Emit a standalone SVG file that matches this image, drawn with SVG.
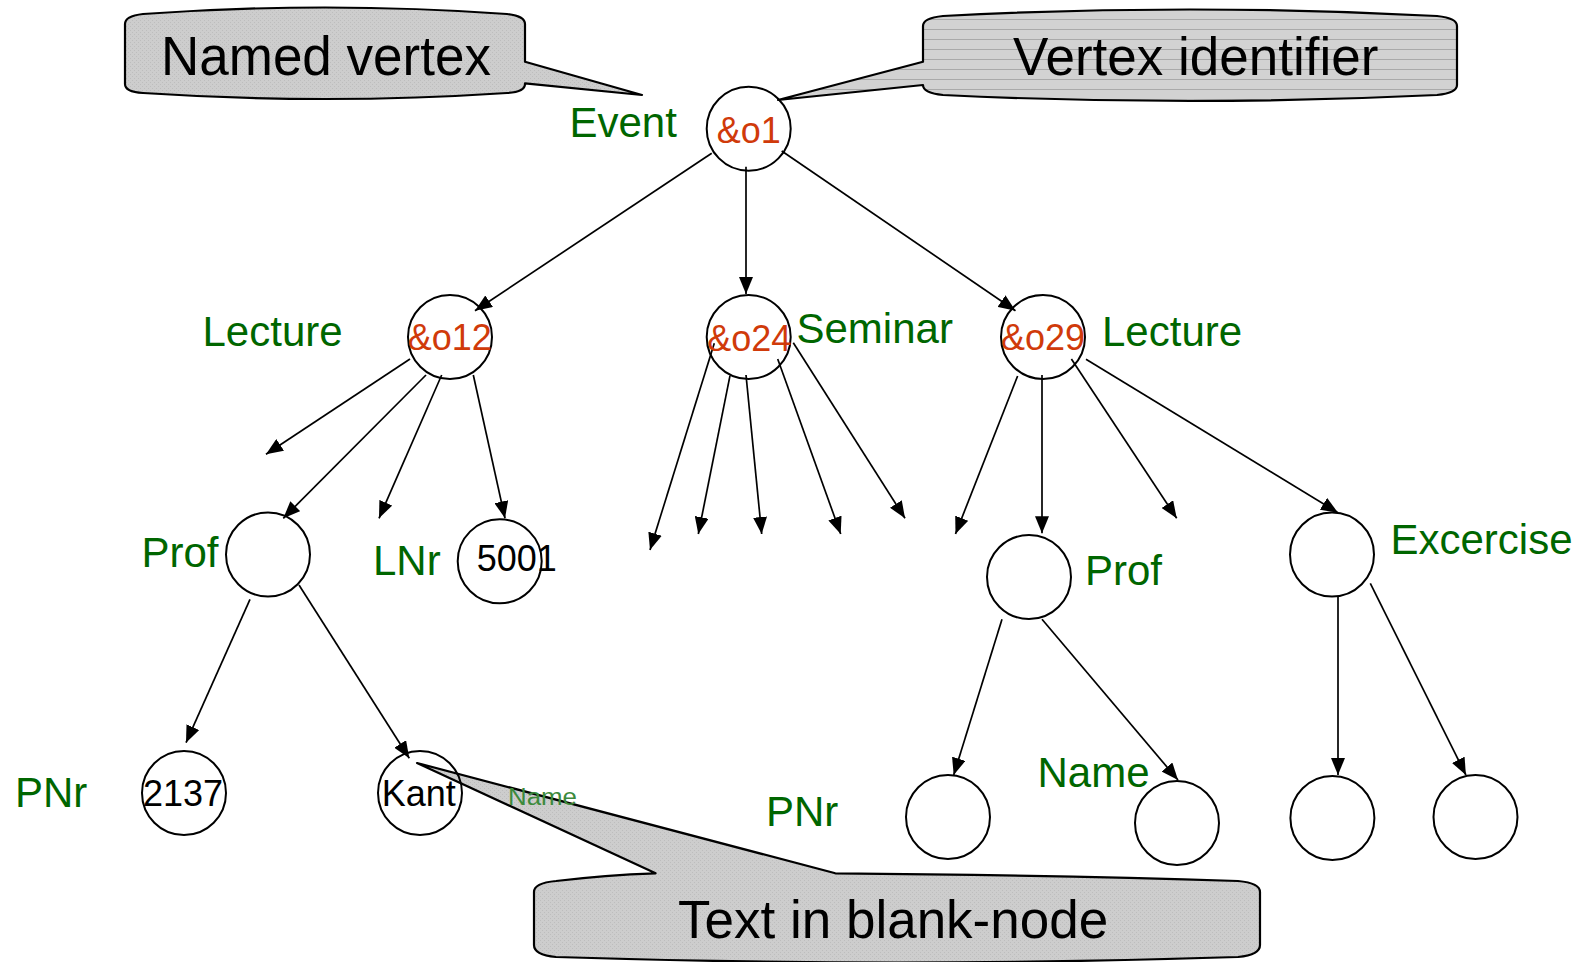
<svg xmlns="http://www.w3.org/2000/svg" width="1589" height="962" viewBox="0 0 1589 962">
<style>
.lbl{font-family:"Liberation Sans",Arial,sans-serif;font-size:42px;fill:#006600}
.id{font-family:"Liberation Sans",Arial,sans-serif;font-size:36px;fill:#d03a0a}
.val{font-family:"Liberation Sans",Arial,sans-serif;font-size:36px;fill:#000}
.call{font-family:"Liberation Sans",Arial,sans-serif;font-size:53px;fill:#000}
.node{fill:none;stroke:#000;stroke-width:2}
.edge{stroke:#000;stroke-width:1.7;fill:none;marker-end:url(#arr)}
.co{stroke:#000;stroke-width:2.2;stroke-linejoin:round}
</style>
<defs>
<marker id="arr" markerUnits="userSpaceOnUse" viewBox="0 0 17 14" refX="17" refY="7" markerWidth="17" markerHeight="14" orient="auto">
<path d="M0,0 L17,7 L0,14 Z" fill="#000"/>
</marker>
<pattern id="dots" patternUnits="userSpaceOnUse" width="4" height="4">
<rect width="4" height="4" fill="#cdcdcd"/>
<rect x="0" y="0" width="1" height="1" fill="#bdbdbd"/>
<rect x="2" y="2" width="1" height="1" fill="#bdbdbd"/>
</pattern>
<pattern id="hlines" patternUnits="userSpaceOnUse" width="8" height="10">
<rect width="8" height="10" fill="#d2d2d2"/>
<rect x="0" y="9" width="8" height="1" fill="#a9a9a9"/>
</pattern>
</defs>
<rect width="1589" height="962" fill="#fff"/>

<g id="callout-named-vertex">
<path class="co" fill="url(#dots)" d="M125,24 Q125,16 143,14 Q325,1 507,14 Q525,16 525,24 L525,61.7 L642,95 L525,83.3 L525,84 Q525,92 507,93 Q325,105 143,93 Q125,92 125,84 Z"/>
<text class="call" transform="translate(161,75) scale(1,1.06)" x="0" y="0">Named vertex</text>
</g>

<g id="callout-vertex-identifier">
<path class="co" fill="url(#hlines)" d="M923,26 Q923,18 943,16 Q1190,3 1437,16 Q1457,18 1457,26 L1457,85 Q1457,93 1437,95 Q1190,107 943,95 Q923,93 923,85 L923,85 L778,100 L923,61.7 Z"/>
<text class="call" x="1013" y="75">Vertex identifier</text>
</g>

<g id="callout-text-in-blank-node">
<path class="co" fill="url(#dots)" d="M534,892 Q534,883 556,881 Q605,875 655.6,873.3 L417,763 L835.3,873.3 Q1050,875 1238,881 Q1260,883 1260,892 L1260,945 Q1260,955 1238,957 Q897,968 556,957 Q534,955 534,945 Z"/>
<text class="call" x="678" y="938">Text in blank-node</text>
</g>

<g id="connectors">
<line class="edge" x1="711.7" y1="153.3" x2="475" y2="310.7"/>
<line class="edge" x1="746" y1="166.7" x2="746" y2="294"/>
<line class="edge" x1="781.7" y1="151" x2="1015.5" y2="310.7"/>
<line class="edge" x1="410" y1="359" x2="266" y2="454.3"/>
<line class="edge" x1="426" y1="375" x2="283.3" y2="518.3"/>
<line class="edge" x1="441.7" y1="375" x2="379" y2="518.3"/>
<line class="edge" x1="473.3" y1="375" x2="505" y2="518.3"/>
<line class="edge" x1="714.3" y1="343.3" x2="650" y2="550"/>
<line class="edge" x1="730" y1="375.7" x2="698.3" y2="534"/>
<line class="edge" x1="746" y1="375" x2="761.7" y2="534"/>
<line class="edge" x1="777.7" y1="359" x2="840.7" y2="534"/>
<line class="edge" x1="793.3" y1="342.7" x2="905" y2="518.3"/>
<line class="edge" x1="1017.6" y1="376" x2="955.5" y2="534"/>
<line class="edge" x1="1042" y1="375" x2="1042" y2="533.3"/>
<line class="edge" x1="1071.4" y1="359" x2="1176.7" y2="518.3"/>
<line class="edge" x1="1086" y1="359.3" x2="1338" y2="512.7"/>
<line class="edge" x1="250" y1="599.3" x2="186" y2="742.7"/>
<line class="edge" x1="299" y1="585" x2="409.3" y2="758.3"/>
<line class="edge" x1="1002" y1="619.3" x2="953.7" y2="775"/>
<line class="edge" x1="1042" y1="619.3" x2="1178" y2="780"/>
<line class="edge" x1="1338" y1="596.7" x2="1338" y2="775"/>
<line class="edge" x1="1370.3" y1="583.3" x2="1465.9" y2="775"/>
</g>

<g id="node-o1">
<circle class="node" cx="748.7" cy="128.7" r="42"/>
<text class="id" x="716.7" y="142.7" font-size="35">&amp;o1</text>
<text class="lbl" x="569.5" y="137.3">Event</text>
</g>
<g id="node-o12">
<circle class="node" cx="450" cy="337" r="42"/>
<text class="id" x="407.7" y="350">&amp;o12</text>
<text class="lbl" x="202.5" y="346">Lecture</text>
</g>
<g id="node-o24">
<circle class="node" cx="748.7" cy="337" r="42"/>
<text class="id" x="707.3" y="350.7">&amp;o24</text>
<text class="lbl" x="796.5" y="342.7">Seminar</text>
</g>
<g id="node-o29">
<circle class="node" cx="1043" cy="337" r="42"/>
<text class="id" x="1001" y="350">&amp;o29</text>
<text class="lbl" x="1102" y="346">Lecture</text>
</g>
<g id="node-prof-left">
<circle class="node" cx="268" cy="554.5" r="42"/>
<text class="lbl" x="141.5" y="566.7">Prof</text>
</g>
<g id="node-5001">
<circle class="node" cx="499.7" cy="561.3" r="42"/>
<text class="val" x="476.7" y="570.7" font-size="35">5001</text>
<text class="lbl" x="373" y="575">LNr</text>
</g>
<g id="node-prof-right">
<circle class="node" cx="1029" cy="577" r="42"/>
<text class="lbl" x="1085" y="585">Prof</text>
</g>
<g id="node-excercise">
<circle class="node" cx="1332" cy="554.5" r="42"/>
<text class="lbl" x="1390.5" y="554">Excercise</text>
</g>
<g id="node-2137">
<circle class="node" cx="184" cy="793" r="42"/>
<text class="val" x="143" y="806" font-size="35">2137</text>
<text class="lbl" x="15" y="807.3">PNr</text>
</g>
<g id="node-kant">
<circle class="node" cx="420" cy="793" r="42"/>
<text class="val" x="381.7" y="806">Kant</text>
<text x="508" y="805" font-family="Liberation Sans, Arial, sans-serif" font-size="23" fill="#3c8a3c" textLength="69" lengthAdjust="spacingAndGlyphs">Name</text>
</g>
<g id="node-pnr-right">
<circle class="node" cx="948" cy="817" r="42"/>
<text class="lbl" x="766" y="826">PNr</text>
</g>
<g id="node-name-right">
<circle class="node" cx="1177" cy="823" r="42"/>
<text class="lbl" x="1037.5" y="787.3">Name</text>
</g>
<g id="node-exc-a">
<circle class="node" cx="1332.4" cy="818" r="42"/>
</g>
<g id="node-exc-b">
<circle class="node" cx="1475.5" cy="817" r="42"/>
</g>
</svg>
